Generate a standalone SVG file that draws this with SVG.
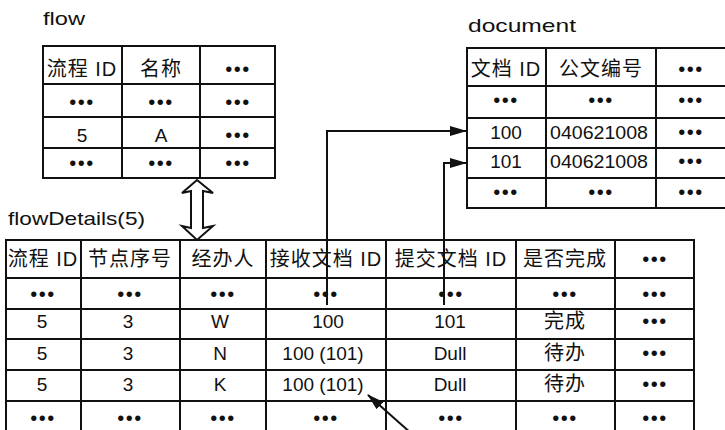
<svg xmlns="http://www.w3.org/2000/svg" width="725" height="430" viewBox="0 0 725 430">
  <style>
    .grid { fill: none; stroke: #111; stroke-width: 2; }
    .t { font-family: "Liberation Sans", "Noto Sans CJK SC", sans-serif; font-size: 19px; fill: #111; text-anchor: middle; }
    .h { font-family: "Liberation Sans", "Noto Sans CJK SC", sans-serif; font-size: 20px; fill: #111; text-anchor: middle; letter-spacing: 1px; }
    .d { font-family: "Liberation Sans", sans-serif; font-size: 20px; fill: #111; text-anchor: middle; letter-spacing: 1.5px; }
    .lbl { font-family: "Liberation Sans", sans-serif; font-size: 19px; fill: #111; }
    .con { fill: none; stroke: #111; stroke-width: 2; }
  </style>
  <defs>
    <marker id="ah" markerUnits="userSpaceOnUse" markerWidth="17" markerHeight="10" refX="16" refY="5" orient="auto">
      <path d="M0,0 L17,5 L0,10 z" fill="#111"/>
    </marker>
  </defs>
  <rect width="725" height="430" fill="#fff"/>

  <g id="flow">
    <text class="lbl" x="43" y="25" textLength="42" lengthAdjust="spacingAndGlyphs">flow</text>
    <rect class="grid" x="43" y="46" width="232" height="132"/>
    <path class="grid" d="M122,46V178 M200,46V178 M43,84H275 M43,117H275 M43,148H275"/>
    <text class="h" x="82" y="76">流程 ID</text>
    <text class="h" x="161" y="76">名称</text>
    <text class="d" x="238" y="76">•••</text>
    <text class="d" x="82" y="109">•••</text>
    <text class="d" x="161" y="109">•••</text>
    <text class="d" x="238" y="109">•••</text>
    <text class="t" x="82" y="142">5</text>
    <text class="t" x="161" y="142">A</text>
    <text class="d" x="238" y="142">•••</text>
    <text class="d" x="82" y="170">•••</text>
    <text class="d" x="161" y="170">•••</text>
    <text class="d" x="238" y="170">•••</text>
  </g>

  <g id="document">
    <text class="lbl" x="468" y="32" textLength="108" lengthAdjust="spacingAndGlyphs">document</text>
    <rect class="grid" x="467" y="48" width="280" height="160"/>
    <path class="grid" d="M546,48V208 M656,48V208 M467,86H747 M467,118H747 M467,148H747 M467,178H747"/>
    <text class="h" x="506" y="76">文档 ID</text>
    <text class="h" x="601" y="76">公文编号</text>
    <text class="d" x="691" y="76">•••</text>
    <text class="d" x="506" y="107">•••</text>
    <text class="d" x="601" y="107">•••</text>
    <text class="d" x="691" y="107">•••</text>
    <text class="t" x="506" y="139">100</text>
    <text class="t" x="599" y="139" textLength="98" lengthAdjust="spacingAndGlyphs">040621008</text>
    <text class="d" x="691" y="139">•••</text>
    <text class="t" x="506" y="168">101</text>
    <text class="t" x="599" y="168" textLength="98" lengthAdjust="spacingAndGlyphs">040621008</text>
    <text class="d" x="691" y="168">•••</text>
    <text class="d" x="506" y="199">•••</text>
    <text class="d" x="601" y="199">•••</text>
    <text class="d" x="691" y="199">•••</text>
  </g>

  <g id="flowDetails">
    <text class="lbl" x="8" y="225" textLength="137" lengthAdjust="spacingAndGlyphs">flowDetails(5)</text>
    <rect class="grid" x="6" y="240" width="688" height="200"/>
    <path class="grid" d="M81,240V440 M180,240V440 M266,240V440 M386,240V440 M516,240V440 M615,240V440 M6,278H694 M6,309H694 M6,339H694 M6,370H694 M6,401H694"/>
    <text class="h" x="43" y="266">流程 ID</text>
    <text class="h" x="130" y="266">节点序号</text>
    <text class="h" x="223" y="266">经办人</text>
    <text class="h" x="326" y="266">接收文档 ID</text>
    <text class="h" x="451" y="266">提交文档 ID</text>
    <text class="h" x="565" y="266">是否完成</text>
    <text class="d" x="655" y="266">•••</text>

    <text class="d" x="43" y="301">•••</text>
    <text class="d" x="130" y="301">•••</text>
    <text class="d" x="223" y="301">•••</text>
    <text class="d" x="326" y="301">•••</text>
    <text class="d" x="451" y="301">•••</text>
    <text class="d" x="565" y="301">•••</text>
    <text class="d" x="655" y="301">•••</text>

    <text class="t" x="42" y="328">5</text>
    <text class="t" x="128" y="328">3</text>
    <text class="t" x="220" y="328">W</text>
    <text class="t" x="328" y="328">100</text>
    <text class="t" x="450" y="328">101</text>
    <text class="h" x="565" y="328">完成</text>
    <text class="d" x="655" y="328">•••</text>

    <text class="t" x="42" y="360">5</text>
    <text class="t" x="128" y="360">3</text>
    <text class="t" x="220" y="360">N</text>
    <text class="t" x="323" y="360">100 (101)</text>
    <text class="t" x="450" y="360">Dull</text>
    <text class="h" x="565" y="360">待办</text>
    <text class="d" x="655" y="360">•••</text>

    <text class="t" x="42" y="391">5</text>
    <text class="t" x="128" y="391">3</text>
    <text class="t" x="220" y="391">K</text>
    <text class="t" x="323" y="391">100 (101)</text>
    <text class="t" x="450" y="391">Dull</text>
    <text class="h" x="565" y="391">待办</text>
    <text class="d" x="655" y="391">•••</text>

    <text class="d" x="43" y="425">•••</text>
    <text class="d" x="130" y="425">•••</text>
    <text class="d" x="223" y="425">•••</text>
    <text class="d" x="326" y="425">•••</text>
    <text class="d" x="451" y="425">•••</text>
    <text class="d" x="565" y="425">•••</text>
    <text class="d" x="655" y="425">•••</text>
  </g>

  <g id="connectors">
    <polyline class="con" points="327,305 327,131 466,131" marker-end="url(#ah)"/>
    <polyline class="con" points="444,305 444,163 466,163" marker-end="url(#ah)"/>
    <polygon points="197,180 213,193 203,191 203,228 213,226 197,240 182,226 191,228 191,191 182,193" fill="#fff" stroke="#111" stroke-width="2" stroke-linejoin="miter"/>
    <line class="con" x1="412" y1="434" x2="368" y2="395" marker-end="url(#ah)"/>
  </g>
</svg>
